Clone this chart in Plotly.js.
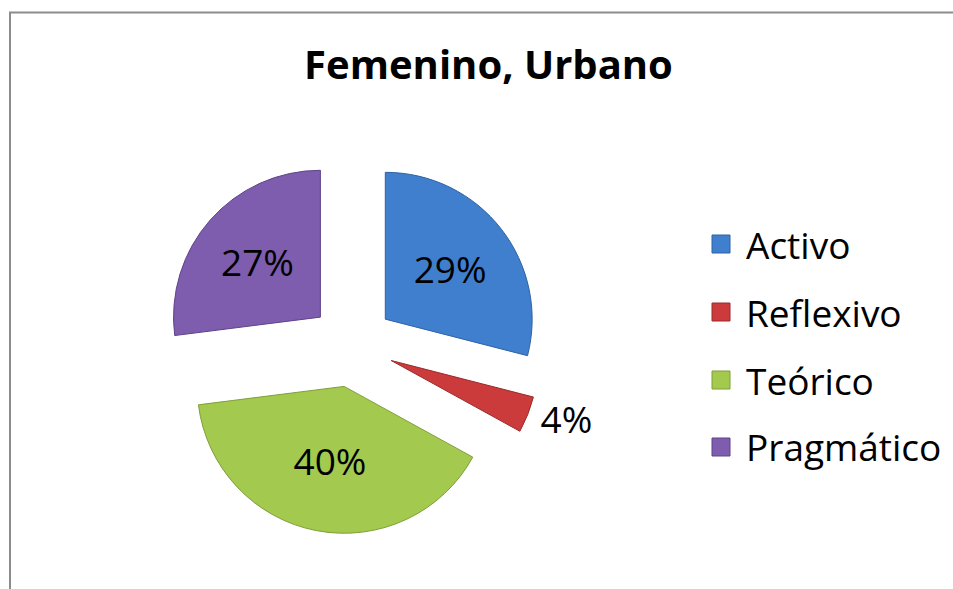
<!DOCTYPE html>
<html>
<head>
<meta charset="utf-8">
<script src="https://cdn.plot.ly/plotly-3.0.1.min.js"></script>
<style>html,body{margin:0;padding:0;background:#fff;}#chart{width:953px;height:589px;}</style>
</head>
<body>
<div id="chart"></div>
<script>
var categories = ["Activo", "Reflexivo", "Teórico", "Pragmático"];
var values = [29, 4, 40, 27];
var colors = ["#3F7FCD", "#CB3B3B", "#A3C94F", "#7E5CAE"];
var edgeColors = ["#2E62A3", "#9A2A2A", "#7F9E38", "#5E4388"];
var titleText = "Femenino, Urbano";

var W = 953, H = 589;
var font = "'Open Sans', Lato, sans-serif";

var trace = {
  type: "pie",
  labels: categories,
  values: values,
  sort: false,
  direction: "clockwise",
  rotation: 0,
  pull: [0.287, 0.287, 0.287, 0.287],
  marker: { colors: colors, line: { color: edgeColors, width: 1 } },
  textinfo: "percent",
  textposition: ["inside", "outside", "inside", "inside"],
  insidetextorientation: "horizontal",
  insidetextfont: { family: font, size: 37, color: "#000" },
  outsidetextfont: { family: font, size: 37, color: "#000" },
  showlegend: false,
  hoverinfo: "label+percent",
  domain: { x: [163 / W, 541 / W], y: [55 / H, 433 / H] }
};

// manual legend (entries from categories/colors)
var legendY = [244, 312, 380, 447];
var shapes = [{
  type: "rect", xref: "paper", yref: "paper",
  x0: 10 / W, x1: 1.05, y0: -0.05, y1: 1 - 12.5 / H,
  line: { color: "#8C8C8C", width: 2 }, fillcolor: "rgba(0,0,0,0)"
}];
var annotations = [];
categories.forEach(function (c, i) {
  var yc = 1 - legendY[i] / H;
  shapes.push({
    type: "rect", xref: "paper", yref: "paper",
    x0: 712 / W, x1: 730 / W, y0: yc - 9 / H, y1: yc + 9 / H,
    fillcolor: colors[i], line: { color: edgeColors[i], width: 1 }
  });
  annotations.push({
    xref: "paper", yref: "paper", x: 744 / W, y: yc,
    xanchor: "left", yanchor: "middle", showarrow: false,
    text: c, font: { family: font, size: 37, color: "#000" }
  });
});

var layout = {
  width: W, height: H,
  margin: { l: 0, r: 0, t: 0, b: 0 },
  paper_bgcolor: "#fff",
  title: {
    text: "<b>" + titleText + "</b>",
    x: 488.5 / W, xanchor: "center", xref: "paper",
    y: 1 - 65 / H, yanchor: "middle", yref: "paper",
    font: { family: font, size: 40, color: "#000" }
  },
  shapes: shapes,
  annotations: annotations,
  showlegend: false
};

Plotly.newPlot("chart", [trace], layout, { displayModeBar: false, staticPlot: true });
</script>
</body>
</html>
